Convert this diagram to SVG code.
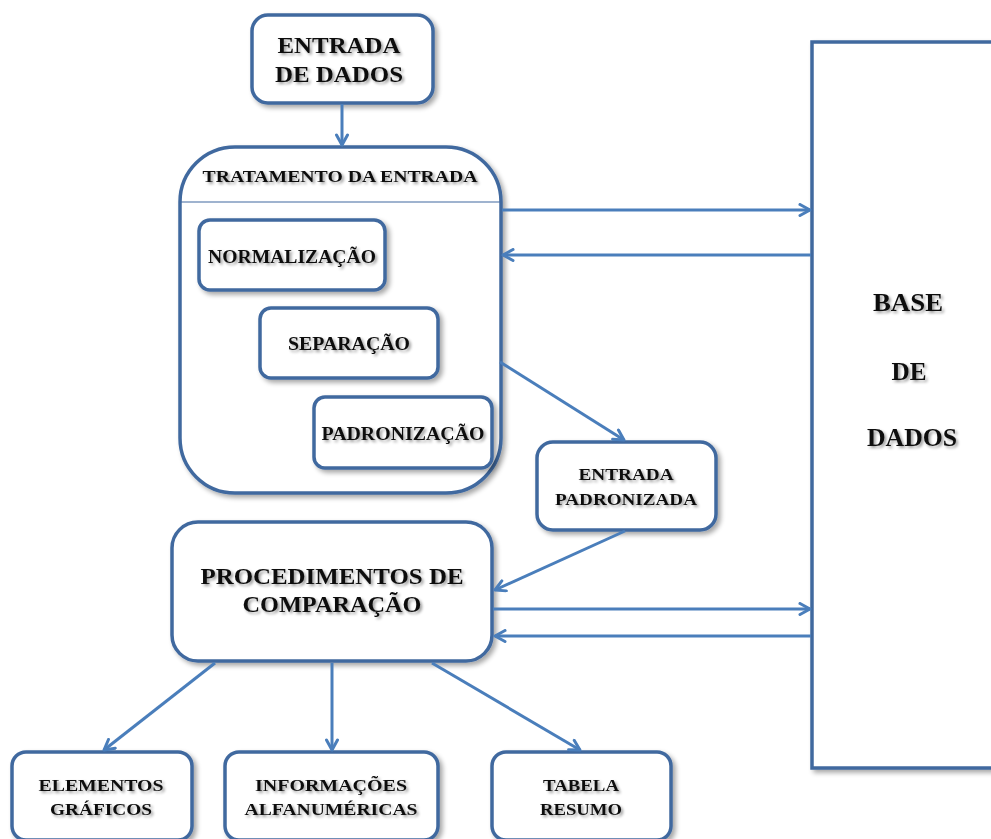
<svg xmlns="http://www.w3.org/2000/svg" width="991" height="839" viewBox="0 0 991 839">
<defs>
<filter id="sh" x="-10%" y="-10%" width="130%" height="130%">
<feGaussianBlur in="SourceAlpha" stdDeviation="2.5"/>
<feOffset dx="3" dy="3" result="b"/>
<feComponentTransfer><feFuncA type="linear" slope="0.35"/></feComponentTransfer>
<feMerge><feMergeNode/><feMergeNode in="SourceGraphic"/></feMerge>
</filter>
<filter id="tsh" x="-10%" y="-30%" width="130%" height="180%">
<feGaussianBlur in="SourceAlpha" stdDeviation="1.5"/>
<feOffset dx="2" dy="2" result="b"/>
<feComponentTransfer><feFuncA type="linear" slope="0.4"/></feComponentTransfer>
<feMerge><feMergeNode/><feMergeNode in="SourceGraphic"/></feMerge>
</filter>
<marker id="ah" viewBox="0 0 14 14" refX="12" refY="7" markerWidth="14" markerHeight="14" markerUnits="userSpaceOnUse" orient="auto">
<polyline points="2,1.5 12,7 2,12.5" fill="none" stroke="#4a7ebb" stroke-width="3" stroke-linecap="round" stroke-linejoin="round"/>
</marker>
</defs>
<style>
.box{fill:#fff;stroke:#41699f;stroke-width:3.5;filter:url(#sh)}
.t{font-family:"Liberation Serif","Times New Roman",serif;font-weight:bold;fill:#111;text-anchor:middle;filter:url(#tsh)}
.c{fill:none;stroke:#4a7ebb;stroke-width:3;marker-end:url(#ah)}
</style>
<rect width="991" height="839" fill="#fff"/>

<g id="base-de-dados">
<rect class="box" x="812" y="42" width="200" height="726" rx="0"/>
<text class="t" x="908" y="311" font-size="26" textLength="70" lengthAdjust="spacingAndGlyphs">BASE</text>
<text class="t" x="909" y="380" font-size="26" textLength="35" lengthAdjust="spacingAndGlyphs">DE</text>
<text class="t" x="912" y="446" font-size="26" textLength="90" lengthAdjust="spacingAndGlyphs">DADOS</text>
</g>

<g id="entrada-de-dados">
<rect class="box" x="252" y="15" width="181" height="88" rx="16"/>
<text class="t" x="339" y="53" font-size="23" textLength="123" lengthAdjust="spacingAndGlyphs">ENTRADA</text>
<text class="t" x="339" y="82" font-size="23" textLength="128" lengthAdjust="spacingAndGlyphs">DE DADOS</text>
</g>

<g id="tratamento">
<rect class="box" x="180" y="147" width="321" height="346" rx="55"/>
<line x1="180" y1="202" x2="501" y2="202" stroke="#41699f" stroke-width="1.2"/>
<text class="t" x="340" y="182" font-size="16" textLength="275" lengthAdjust="spacingAndGlyphs">TRATAMENTO  DA ENTRADA</text>
</g>

<g id="normalizacao">
<rect class="box" x="199" y="220" width="186" height="70" rx="11"/>
<text class="t" x="292" y="263" font-size="18" textLength="168" lengthAdjust="spacingAndGlyphs">NORMALIZAÇÃO</text>
</g>

<g id="separacao">
<rect class="box" x="260" y="308" width="178" height="70" rx="11"/>
<text class="t" x="349" y="350" font-size="18" textLength="122" lengthAdjust="spacingAndGlyphs">SEPARAÇÃO</text>
</g>

<g id="padronizacao">
<rect class="box" x="314" y="397" width="178" height="71" rx="11"/>
<text class="t" x="403" y="440" font-size="18" textLength="163" lengthAdjust="spacingAndGlyphs">PADRONIZAÇÃO</text>
</g>

<g id="entrada-padronizada">
<rect class="box" x="537" y="442" width="179" height="88" rx="16"/>
<text class="t" x="626" y="480" font-size="17" textLength="95" lengthAdjust="spacingAndGlyphs">ENTRADA</text>
<text class="t" x="626" y="505" font-size="17" textLength="142" lengthAdjust="spacingAndGlyphs">PADRONIZADA</text>
</g>

<g id="procedimentos">
<rect class="box" x="172" y="522" width="320" height="139" rx="26"/>
<text class="t" x="332" y="584" font-size="23" textLength="263" lengthAdjust="spacingAndGlyphs">PROCEDIMENTOS DE</text>
<text class="t" x="332" y="612" font-size="23" textLength="179" lengthAdjust="spacingAndGlyphs">COMPARAÇÃO</text>
</g>

<g id="elementos-graficos">
<rect class="box" x="12" y="752" width="180" height="88" rx="14"/>
<text class="t" x="101" y="791" font-size="17" textLength="125" lengthAdjust="spacingAndGlyphs">ELEMENTOS</text>
<text class="t" x="101" y="815" font-size="17" textLength="102" lengthAdjust="spacingAndGlyphs">GRÁFICOS</text>
</g>

<g id="informacoes">
<rect class="box" x="225" y="752" width="213" height="88" rx="14"/>
<text class="t" x="331" y="791" font-size="17" textLength="152" lengthAdjust="spacingAndGlyphs">INFORMAÇÕES</text>
<text class="t" x="331" y="815" font-size="17" textLength="173" lengthAdjust="spacingAndGlyphs">ALFANUMÉRICAS</text>
</g>

<g id="tabela-resumo">
<rect class="box" x="492" y="752" width="179" height="88" rx="14"/>
<text class="t" x="581" y="791" font-size="17" textLength="76" lengthAdjust="spacingAndGlyphs">TABELA</text>
<text class="t" x="581" y="815" font-size="17" textLength="82" lengthAdjust="spacingAndGlyphs">RESUMO</text>
</g>

<g id="connectors">
<line class="c" x1="342" y1="104" x2="342" y2="145"/>
<line class="c" x1="502" y1="210" x2="810" y2="210"/>
<line class="c" x1="811" y1="255" x2="503" y2="255"/>
<line class="c" x1="500" y1="362" x2="624" y2="440"/>
<line class="c" x1="625" y1="531" x2="495" y2="590"/>
<line class="c" x1="493" y1="609" x2="810" y2="609"/>
<line class="c" x1="811" y1="636" x2="495" y2="636"/>
<line class="c" x1="215" y1="663" x2="104" y2="750"/>
<line class="c" x1="332" y1="663" x2="332" y2="750"/>
<line class="c" x1="432" y1="663" x2="580" y2="750"/>
</g>
</svg>
